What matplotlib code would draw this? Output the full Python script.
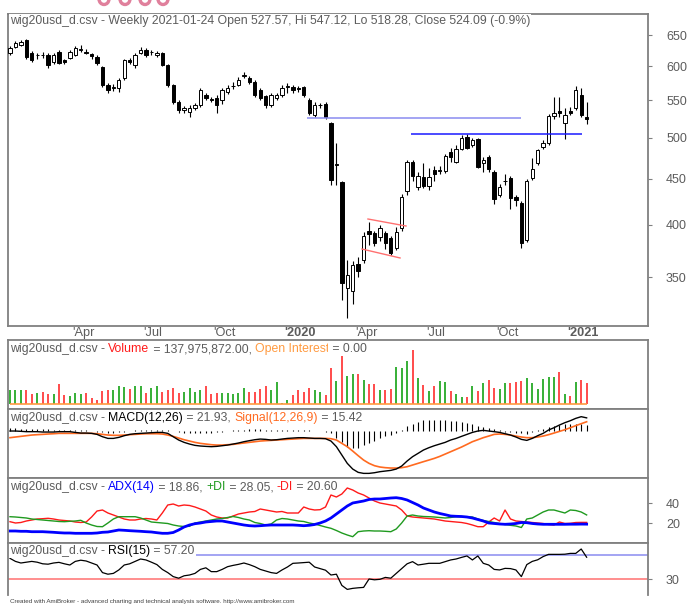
import matplotlib.pyplot as plt
import matplotlib.transforms as mtransforms
from matplotlib.patches import Arc
import pandas as pd

W, H = 687, 605
plt.rcParams['font.family'] = ['Liberation Sans', 'DejaVu Sans']

GRAY = '#5c5c5c'
FRAME = '#808080'
FS = 8.8

LAST_DATE = '2021-01-24'

# weekly OHLC
OPEN = [620.8, 631, 633.6, 641.7, 620.8, 617, 618, 617.6, 606.7, 622.4,
        609.8, 612.9, 617.6, 626, 623, 619, 614.4, 598.9, 572, 568,
        567.6, 582.3, 609.8, 602, 620.8, 625.6, 622, 617.6, 620.8, 602,
        572, 547.8, 537, 534, 539.5, 543.6, 557.6, 552, 553.4, 550.6,
        561.9, 570, 572, 586, 582.3, 576.4, 564.8, 556.2, 543.6, 553.4,
        557.6, 569, 569.1, 567, 569.1, 550.6, 529.9, 543, 545, 519.2,
        466, 446.5, 340.5, 337.9, 361.9, 365.6, 393.7, 391.7, 387.7, 391.7,
        386.7, 377, 396.7, 436.4, 469.9, 440.9, 452.2, 442, 460.4, 459,
        459.2, 482, 469.9, 485.7, 500.8, 490.7, 498.3, 468.7, 475.9, 458,
        432, 447, 451.1, 429.8, 423.3, 384.7, 451.1, 468.7, 488.2, 493.2,
        528.5, 535.3, 519.2, 535.3, 539.5, 557.6, 527.57]
HIGH = [632, 640, 642, 643, 624, 621, 622, 620, 620, 625,
        611, 625, 632, 633, 627, 621, 617, 601, 575, 573,
        582, 612, 613, 620, 630, 628, 626, 624, 623, 604,
        574, 550, 542, 543, 546, 568, 561, 555, 557, 567,
        572, 576, 584, 592, 585, 579, 567, 558, 560, 560,
        572, 575, 572, 571, 571, 553, 547, 546, 547, 521,
        493, 448, 366, 365, 368, 393, 403, 394, 400, 394,
        389, 398, 433, 472, 472, 458, 468, 462, 465, 465,
        480, 487, 490, 503, 505, 499, 500, 476, 478, 460,
        444, 455, 453, 432, 425, 450, 475, 486, 497, 531,
        555, 555, 540, 541, 570, 568, 547.12]
LOW = [618, 629, 632, 612, 606, 612, 613, 598, 604, 603,
       604, 611, 616, 623, 619, 611, 602, 569, 561, 564,
       562, 580, 604, 598, 619, 615, 618, 614, 600, 569,
       545, 532, 533, 527, 536, 541, 550, 547, 532, 545,
       559, 566, 570, 583, 574, 555, 550, 540, 541, 551,
       555, 560, 560, 562, 555, 530, 527, 540, 525, 443,
       443, 330, 315, 327, 350, 363, 380, 379, 384, 376,
       370, 375, 394, 432, 448, 437, 440, 437, 447, 455,
       457, 470, 468, 484, 485, 488, 462, 458, 458, 422,
       430, 443, 417, 420, 377, 383, 449, 466, 485, 491,
       525, 527, 498, 530, 537, 527, 518.28]
CLOSE = [628.7, 636.8, 638, 614.4, 609.8, 618, 617, 602, 617.6, 605.1,
         606.7, 622.4, 628.7, 627, 621, 616, 605.1, 572, 564.8, 569,
         579.4, 609.8, 606.7, 617.6, 625.6, 617.6, 623, 620.8, 602, 572,
         547.8, 536.7, 539, 539.5, 543.6, 564.8, 553.4, 551, 543.6, 564.8,
         567.6, 571, 579.4, 587, 576.4, 557.6, 553.4, 543.6, 557.6, 557.6,
         567.6, 570, 564.8, 566, 557.6, 532.6, 543.6, 544, 527.2, 448.8,
         467, 344.8, 351.9, 361, 355.6, 388.7, 390.7, 381.8, 396.7, 381.8,
         372.2, 392.7, 429.8, 469.9, 453.4, 453.4, 442, 452.2, 455.7, 460,
         477.2, 475.9, 485.7, 499.5, 487, 497, 463.9, 472.3, 461.6, 427.6,
         440.9, 448, 428.7, 426.5, 381.8, 447.7, 461.6, 484.5, 493.2, 528.5,
         532.6, 532.6, 529.9, 532.6, 564.8, 529.9, 524.09]

# volume in millions
VOLUME = [91, 95, 95, 95, 65, 73, 78, 69, 69, 134,
          63, 56, 73, 69, 73, 37, 30, 86, 95, 91,
          123, 112, 102, 121, 121, 73, 106, 121, 78, 95,
          106, 73, 78, 106, 78, 91, 121, 69, 73, 73,
          73, 69, 73, 108, 78, 78, 99, 119, 95, 145,
          4, 30, 58, 95, 78, 106, 91, 78, 63, 238,
          151, 318, 184, 203, 203, 160, 134, 134, 95, 95,
          102, 248, 238, 285, 358, 173, 127, 84, 117, 153,
          149, 84, 65, 48, 48, 123, 84, 140, 160, 108,
          102, 140, 140, 145, 151, 173, 143, 102, 166, 181,
          181, 215, 69, 54, 146, 161, 138]

MACD = [0, 0, -0.5, -1.1, -1.1, -1.1, -1.7, -1.7, -1.7, -1.1,
        -1.1, -1.1, -2.3, -3.4, -3.4, -3.9, -5.6, -9.5, -12.3, -12.3,
        -10.6, -7.8, -5.6, -4.5, -3.9, -3.4, -2.8, -2.3, -2.3, -3.9,
        -9.5, -15.0, -18.9, -21.7, -23.9, -25.0, -25.6, -26.1, -25.6, -24.5,
        -23.4, -21.7, -20.0, -17.8, -16.1, -14.5, -13.4, -13.9, -15.0, -14.5,
        -13.4, -12.3, -11.7, -11.1, -11.1, -11.7, -12.3, -12.3, -12.8, -16.7,
        -26.1, -40.0, -53.9, -63.4, -68.9, -70.6, -70.6, -69.5, -67.8, -66.7,
        -65.6, -63.4, -58.4, -50.0, -42.8, -37.3, -31.7, -27.8, -24.5, -21.7,
        -18.9, -15.0, -12.3, -8.9, -5.6, -2.3, 0.0, 1.1, 0.0, -1.1,
        -2.3, -4.5, -6.7, -10.0, -13.9, -15.6, -12.3, -7.8, -3.9, 1.7,
        5.5, 10.0, 13.9, 17.2, 21.1, 23.9, 21.93]
SIGNAL = [-11.1, -10.0, -8.9, -7.8, -6.7, -6.1, -5.6, -5.0, -4.5, -3.9,
          -3.9, -3.9, -3.9, -3.9, -3.9, -3.9, -4.5, -5.6, -6.7, -7.2,
          -7.2, -6.7, -6.1, -5.6, -5.0, -4.5, -4.5, -4.5, -5.0, -6.7,
          -8.9, -11.7, -14.5, -16.7, -18.9, -20.6, -21.7, -22.8, -23.4, -23.4,
          -22.8, -22.3, -21.1, -20.0, -18.9, -17.8, -16.7, -16.1, -15.6, -15.0,
          -14.5, -13.9, -13.4, -12.8, -12.3, -12.3, -12.3, -12.3, -12.3, -12.8,
          -15.0, -20.6, -26.1, -33.4, -41.1, -48.4, -53.9, -57.8, -60.0, -61.1,
          -61.7, -61.7, -61.1, -59.5, -56.7, -53.9, -51.1, -48.4, -45.6, -42.3,
          -38.4, -34.5, -30.6, -26.7, -22.3, -17.8, -14.5, -11.1, -8.4, -5.6,
          -5.0, -5.6, -6.7, -8.4, -10.0, -11.1, -11.1, -10.0, -8.4, -6.1,
          -3.4, -0.6, 2.2, 5.5, 8.9, 12.2, 15.42]
HIST = [5, 5, 4, 4, 3, 3, 3, 3, 2, 2,
        2, 2, 1, 1, 1, 0, -1, -2, -3, -3,
        -2, -1, 0, 1, 1, 2, 2, 2, 2, 1,
        0, -2, -3, -4, -4, -4, -4, -3, -2, -1,
        0, 1, 2, 2, 3, 3, 3, 2, 1, 1,
        1, 2, 2, 2, 1, 1, 0, 0, -1, -4,
        -11, -19, -26, -29, -28, -24, -20, -16, -12, -9,
        -6, -3, 2, 8, 12, 15, 18, 19, 19, 19,
        18, 17, 16, 15, 13, 11, 9, 7, 5, 3,
        1, -1, -2, -3, -4, -5, -2, 2, 4, 7,
        8, 10, 11, 12, 12, 11, 10]

ADX = [12.0, 12.0, 11.7, 11.7, 11.3, 11.3, 11.3, 11.0, 10.7, 10.3,
       10.0, 10.0, 9.7, 9.7, 9.7, 9.7, 10.0, 10.7, 11.0, 12.0,
       13.0, 12.7, 12.3, 12.0, 11.7, 11.3, 11.0, 10.3, 9.7, 9.7,
       10.5, 13.0, 16.0, 18.0, 19.3, 20.0, 21.0, 21.5, 22.0, 22.0,
       21.0, 20.0, 19.0, 18.0, 17.3, 17.0, 17.3, 17.7, 18.0, 18.0,
       18.0, 18.0, 18.0, 17.7, 17.3, 17.7, 18.5, 20.0, 22.0, 25.0,
       29.0, 33.0, 37.0, 40.0, 41.0, 42.0, 43.5, 44.0, 44.0, 44.5,
       45.0, 45.3, 44.5, 43.0, 40.5, 38.0, 35.0, 33.0, 31.0, 29.5,
       28.3, 27.0, 26.7, 26.5, 26.0, 25.0, 23.5, 22.0, 20.0, 19.5,
       19.0, 18.7, 19.0, 19.5, 20.5, 20.3, 19.5, 19.0, 18.7, 18.7,
       18.7, 18.7, 18.7, 18.8, 18.8, 18.9, 18.86]
PLUS_DI = [26.3, 26.0, 25.5, 25.0, 24.0, 23.5, 23.0, 22.5, 22.0, 21.5,
           21.3, 21.7, 22.0, 22.7, 20.0, 18.0, 16.5, 16.3, 20.0, 24.0,
           26.3, 26.3, 26.3, 26.3, 25.0, 23.0, 21.0, 20.5, 20.0, 19.5,
           18.0, 17.0, 16.5, 16.7, 20.0, 21.0, 22.0, 23.0, 24.0, 24.5,
           25.5, 26.5, 25.5, 24.0, 23.0, 20.5, 19.5, 18.0, 19.0, 23.0,
           24.5, 24.0, 23.0, 22.0, 21.5, 20.0, 19.0, 17.5, 16.0, 14.7,
           12.5, 10.0, 8.0, 6.3, 11.3, 12.0, 12.3, 12.0, 12.0, 11.7,
           11.3, 14.0, 20.0, 27.0, 28.0, 27.0, 26.5, 26.3, 26.0, 25.5,
           25.0, 25.5, 26.3, 26.3, 26.3, 26.0, 24.0, 22.5, 21.5, 20.5,
           19.5, 18.5, 17.7, 17.0, 15.5, 24.0, 25.0, 28.0, 31.0, 33.0,
           33.0, 31.5, 30.0, 33.0, 32.5, 31.0, 28.05]
MINUS_DI = [21.3, 20.0, 20.5, 22.0, 23.0, 24.0, 24.3, 24.7, 24.0, 23.0,
            22.5, 22.0, 21.0, 20.5, 21.0, 26.0, 32.0, 33.0, 30.0, 28.0,
            26.0, 24.0, 23.0, 23.0, 24.0, 24.5, 24.0, 23.0, 30.0, 38.0,
            39.0, 37.0, 38.0, 37.5, 36.0, 34.0, 32.0, 28.0, 26.0, 25.0,
            25.0, 27.0, 29.0, 30.0, 31.0, 31.5, 34.0, 33.0, 32.0, 31.0,
            31.5, 30.0, 30.0, 30.0, 36.0, 34.0, 33.0, 33.3, 36.0, 48.0,
            46.0, 49.0, 55.0, 53.0, 50.0, 48.0, 45.0, 42.0, 40.0, 39.0,
            38.0, 37.0, 33.0, 27.0, 26.0, 25.5, 25.0, 24.5, 24.0, 23.0,
            22.0, 21.5, 21.0, 20.5, 19.5, 18.0, 16.3, 16.3, 21.0, 25.0,
            22.0, 33.0, 24.0, 22.0, 21.5, 21.0, 20.5, 20.0, 19.5, 18.5,
            18.0, 21.0, 19.5, 19.7, 20.5, 20.6, 20.60]
RSI = [55.8, 52, 50, 51, 52, 51, 49, 48.5, 50, 50.8,
       49, 47.5, 52, 53.5, 52.5, 50, 47.5, 38, 36, 37,
       41.3, 47.5, 49, 52, 55, 53.8, 51, 48, 42, 38,
       33, 31, 34, 35, 37, 42, 44, 39.2, 39.2, 42,
       45.4, 47, 48.3, 50, 48, 45.4, 42, 40, 38, 37,
       41.3, 45, 49.6, 50, 50.5, 51, 45, 43, 41, 35,
       36, 22, 17, 18.3, 19, 19.5, 30, 29, 29.6, 32,
       31, 37, 43, 49, 51.7, 47.5, 48.5, 49.6, 49.6, 49.6,
       51.7, 53.8, 55, 57, 58.8, 53.8, 58.8, 49.6, 47.5, 42,
       41.3, 43.3, 43, 41.3, 33, 48, 52, 54, 58, 60.8,
       60.8, 60.8, 61, 62, 62, 67.5, 57.2]

# drawn studies: (start bar, end bar, price)
H_LINES = [(54.6, 93.9, 525.6), (73.7, 105.1, 504.7)]
FLAG_UPPER = [(65.8, 406.0), (72.8, 398.8)]
FLAG_LOWER = [(64.7, 376.0), (71.7, 367.5)]
RSI_LEVELS = [60, 30]

PRICE_TICKS = [350, 400, 450, 500, 550, 600, 650]
ADX_TICKS = [20, 40]
RSI_TICKS = [30]

# clipped pink marks along the very top edge (pixel x of each)
TOP_MARKS_X = [104, 125, 145, 163]


def box(x0, y0, x1, y1):
    return [x0 / W, 1 - y1 / H, (x1 - x0) / W, (y1 - y0) / H]


def style_axes(ax, bottom=True):
    for side in ['left', 'right', 'top', 'bottom']:
        ax.spines[side].set_color(FRAME)
        ax.spines[side].set_linewidth(1.3)
    ax.spines['bottom'].set_visible(bottom)
    ax.xaxis.set_visible(False)
    ax.yaxis.tick_right()
    ax.tick_params(axis='y', length=3, width=0.8, color=FRAME, labelcolor=GRAY,
                   labelsize=FS + 0.2, pad=10)
    ax.set_yticks([])
    ax.set_xlim(X0, X1)


def chain_title(y_px, parts):
    # title pieces live on a top overlay so nothing is drawn over them
    t = overlay.text(10 / W, 1 - y_px / H, parts[0][0], color=parts[0][1], fontsize=FS,
                     ha='left', va='baseline', transform=overlay.transAxes,
                     bbox=dict(fc='white', ec='none', pad=0.6))
    for s, c in parts[1:]:
        t = overlay.annotate(s, xy=(1, 0), xycoords=t, color=c, fontsize=FS,
                             ha='left', va='bottom', annotation_clip=False,
                             bbox=dict(fc='white', ec='none', pad=0.6))
    return t


n = len(CLOSE)
idx = list(range(n))
dates = pd.date_range(end=LAST_DATE, periods=n, freq='W-SUN')
STEP = 5.44
X0 = (8 - 10) / STEP
X1 = X0 + 640 / STEP

fig = plt.figure(figsize=(W / 100, H / 100), dpi=100)

# ---- price pane
ax_p = fig.add_axes(box(8, 14, 648, 326))
style_axes(ax_p)
ax_p.set_yscale('log')
ax_p.set_ylim(308.8, 685.9)
ax_p.set_yticks(PRICE_TICKS)
ax_p.set_yticklabels([str(v) for v in PRICE_TICKS])
ax_p.minorticks_off()

up = [c >= o for o, c in zip(OPEN, CLOSE)]
ax_p.vlines(idx, LOW, HIGH, color='black', linewidth=0.8, zorder=2)
for i in idx:
    lo, hi = min(OPEN[i], CLOSE[i]), max(OPEN[i], CLOSE[i])
    if hi - lo < 0.8:
        hi = lo + 0.8
    ax_p.bar(i, hi - lo, bottom=lo, width=0.62,
             color='white' if up[i] else 'black', edgecolor='black',
             linewidth=0.7, zorder=3)

ax_p.hlines(H_LINES[0][2], H_LINES[0][0], H_LINES[0][1], color='#8a8cf0', linewidth=1.1, zorder=4)
ax_p.hlines(H_LINES[1][2], H_LINES[1][0], H_LINES[1][1], color='#1a1aff', linewidth=1.1, zorder=4)
ax_p.plot([p[0] for p in FLAG_UPPER], [p[1] for p in FLAG_UPPER], color='#ff7070', linewidth=1, zorder=4)
ax_p.plot([p[0] for p in FLAG_LOWER], [p[1] for p in FLAG_LOWER], color='#ff7070', linewidth=1, zorder=4)

# date labels between price pane and volume pane
trans = mtransforms.blended_transform_factory(ax_p.transData, fig.transFigure)
for i in range(1, n):
    m = dates[i].month
    if m != dates[i - 1].month and m in (1, 4, 7, 10):
        if m == 1:
            lab, wt = "'" + str(dates[i].year), 'bold'
        else:
            lab, wt = "'" + dates[i].strftime('%b'), 'normal'
        ax_p.text(i - 0.55, 1 - 333 / H, lab, transform=trans, ha='left', va='center',
                  fontsize=FS + 0.4, color=GRAY, fontweight=wt, clip_on=False)

# ---- volume pane
ax_v = fig.add_axes(box(8, 340, 648, 409))
style_axes(ax_v)
ax_v.set_ylim(-33.3, 426.7)
ax_v.vlines(idx, 0, VOLUME, colors=['#009a00' if u else '#ff1a1a' for u in up], linewidth=1.1)
ax_v.hlines(0, 0, n - 1, color='#ff9a40', linewidth=1.2)

# ---- MACD pane
ax_m = fig.add_axes(box(8, 409, 648, 478))
style_axes(ax_m)
ax_m.set_ylim(-78.3, 36.7)
ax_m.vlines(idx, 0, HIST, color='black', linewidth=0.8)
ax_m.plot(idx, SIGNAL, color='#ff6a20', linewidth=1.2)
ax_m.plot(idx, MACD, color='black', linewidth=1.0)

# ---- ADX pane
ax_a = fig.add_axes(box(8, 478, 648, 543))
style_axes(ax_a)
ax_a.set_ylim(0, 65)
ax_a.set_yticks(ADX_TICKS)
ax_a.set_yticklabels([str(v) for v in ADX_TICKS])
ax_a.plot(idx, MINUS_DI, color='#ff1a1a', linewidth=1.0)
ax_a.plot(idx, PLUS_DI, color='#1f9a1f', linewidth=1.0)
ax_a.plot(idx, ADX, color='#0000ff', linewidth=2.0)

# ---- RSI pane
ax_r = fig.add_axes(box(8, 543, 648, 595))
style_axes(ax_r, bottom=False)
ax_r.set_ylim(10, 75)
ax_r.set_yticks(RSI_TICKS)
ax_r.set_yticklabels([str(v) for v in RSI_TICKS])
ax_r.hlines(RSI_LEVELS[0], 34, X1, color='#8a8cf0', linewidth=1.1)
ax_r.hlines(RSI_LEVELS[1], X0, X1, color='#ff7070', linewidth=1.1)
ax_r.plot(idx, RSI, color='black', linewidth=0.9)

# ---- pane titles on top of everything
overlay = fig.add_axes([0, 0, 1, 1])
overlay.axis('off')
overlay.set_xlim(0, 1)
overlay.set_ylim(0, 1)

for cx in TOP_MARKS_X:
    overlay.add_patch(Arc((cx / W, 1 + 1 / H), 10 / W, 11 / H, theta1=180, theta2=360,
                          color='#e0809c', linewidth=2.4))

chain_title(24, [('wig20usd_d.csv - Weekly 2021-01-24 Open 527.57, Hi 547.12, '
                  'Lo 518.28, Close 524.09 (-0.9%)', GRAY)])
chain_title(352, [('wig20usd_d.csv - ', GRAY), ('Volume', '#ff1a1a'),
                  (' = 137,975,872.00, ', GRAY), ('Open Interest', '#ff9a40'),
                  (' = 0.00', GRAY)])
chain_title(421, [('wig20usd_d.csv - ', GRAY), ('MACD(12,26)', 'black'),
                  (' = 21.93, ', GRAY), ('Signal(12,26,9)', '#ff6a20'),
                  (' = 15.42', GRAY)])
chain_title(490, [('wig20usd_d.csv - ', GRAY), ('ADX(14)', '#0000ff'),
                  (' = 18.86, ', GRAY), ('+DI', '#1f9a1f'),
                  (' = 28.05, ', GRAY), ('-DI', '#ff1a1a'),
                  (' = 20.60', GRAY)])
chain_title(554, [('wig20usd_d.csv - ', GRAY), ('RSI(15)', 'black'),
                  (' = 57.20', GRAY)])

overlay.text(10 / W, 1 - 601 / H,
             'Created with AmiBroker - advanced charting and technical analysis software. '
             'http://www.amibroker.com',
             fontsize=4.5, color='#404040', ha='left', va='center')

fig.savefig('out.png', dpi=100)
